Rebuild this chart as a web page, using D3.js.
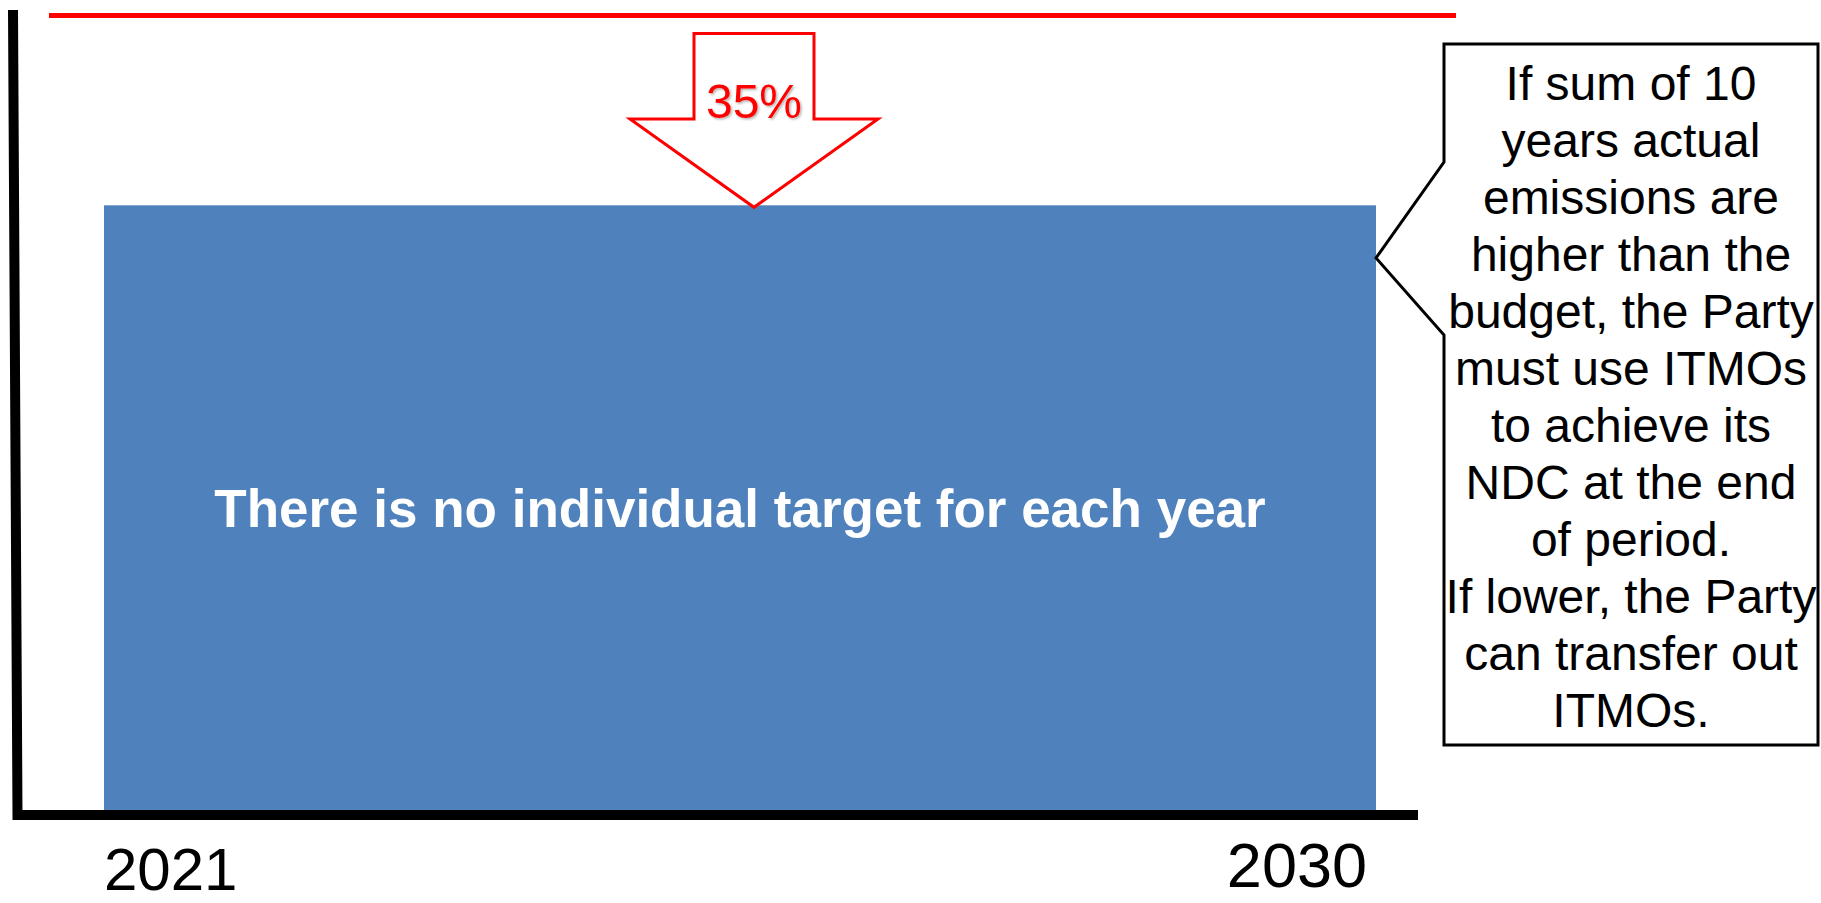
<!DOCTYPE html>
<html>
<head>
<meta charset="utf-8">
<script src="https://cdn.jsdelivr.net/npm/d3@7"></script>
<style>
  html, body { margin: 0; padding: 0; background: #fff; }
  svg { display: block; font-family: "Liberation Sans", Arial, sans-serif; }
</style>
</head>
<body>
<svg width="1821" height="903"></svg>
<script>
// ***Data***
var period = [2021, 2030];          // first and last year of the NDC period
var tickLabels = ["2021", "2030"];
var baseLevel = 100;                // red reference line
var budgetLevel = 76.2;             // height of the budget block
var reductionLabel = "35%";
var barLabel = "There is no individual target for each year";
var calloutLines = [
  "If sum of 10",
  "years actual",
  "emissions are",
  "higher than the",
  "budget, the Party",
  "must use ITMOs",
  "to achieve its",
  "NDC at the end",
  "of period.",
  "If lower, the Party",
  "can transfer out",
  "ITMOs."
];

var svg = d3.select("svg");

// soft shadow like the slide's text effect
var defs = svg.append("defs");
var f = defs.append("filter").attr("id", "shadow")
    .attr("x", "-10%").attr("y", "-10%").attr("width", "130%").attr("height", "130%");
f.append("feDropShadow").attr("dx", 1.5).attr("dy", 1.5)
    .attr("stdDeviation", 1).attr("flood-color", "#000").attr("flood-opacity", 0.3);

// scales: bar covers whole years, from start of 2021 to end of 2030
var x = d3.scaleLinear().domain([period[0], period[1] + 1]).range([104, 1376]);
var y = d3.scaleLinear().domain([0, baseLevel]).range([813, 15.5]);

// budget block
svg.append("rect")
    .attr("x", x(period[0]))
    .attr("y", y(budgetLevel))
    .attr("width", x(period[1] + 1) - x(period[0]))
    .attr("height", y(0) - y(budgetLevel))
    .attr("fill", "#4f81bd");

// axes (hand drawn in the slide: the vertical one leans a little)
svg.append("path")
    .attr("d", "M13,10 L17.5," + (y(0) + 2) + " L1418," + (y(0) + 2))
    .attr("fill", "none")
    .attr("stroke", "#000")
    .attr("stroke-width", 10)
    .attr("stroke-linejoin", "miter");

// base level line
svg.append("line")
    .attr("x1", 49).attr("x2", 1456)
    .attr("y1", y(baseLevel)).attr("y2", y(baseLevel))
    .attr("stroke", "#ff0000")
    .attr("stroke-width", 5);

// down arrow from base line to the budget
var ax = 754, tipY = y(budgetLevel) + 2, topY = y(baseLevel) + 18;
var shaftW = 60, headW = 124, headY = 119;
svg.append("path")
    .attr("d", "M" + (ax - shaftW) + "," + topY +
      " H" + (ax + shaftW) +
      " V" + headY +
      " H" + (ax + headW) +
      " L" + ax + "," + tipY +
      " L" + (ax - headW) + "," + headY +
      " H" + (ax - shaftW) + " Z")
    .attr("fill", "#fff")
    .attr("stroke", "#ff0000")
    .attr("stroke-width", 3);

svg.append("text")
    .attr("x", ax)
    .attr("y", 118)
    .attr("text-anchor", "middle")
    .attr("font-size", 48)
    .attr("fill", "#ff0000")
    .attr("filter", "url(#shadow)")
    .text(reductionLabel);

// text inside the block
svg.append("text")
    .attr("x", (x(period[0]) + x(period[1] + 1)) / 2)
    .attr("y", 527)
    .attr("text-anchor", "middle")
    .attr("font-size", 53)
    .attr("font-weight", "bold")
    .attr("fill", "#fff")
    .text(barLabel);

// year labels under the axis
svg.append("text")
    .attr("x", x(period[0]))
    .attr("y", 890)
    .attr("font-size", 60)
    .attr("fill", "#000")
    .text(tickLabels[0]);

svg.append("text")
    .attr("x", x(period[1] + 1) - 9)
    .attr("y", 887)
    .attr("text-anchor", "end")
    .attr("font-size", 63)
    .attr("fill", "#000")
    .text(tickLabels[1]);

// callout box pointing at the block
var bx0 = 1444, bx1 = 1818, by0 = 44, by1 = 745;
svg.append("path")
    .attr("d", "M" + bx0 + "," + by0 + " H" + bx1 + " V" + by1 + " H" + bx0 +
      " V335 L" + x(period[1] + 1) + ",258 L" + bx0 + ",162 Z")
    .attr("fill", "#fff")
    .attr("stroke", "#000")
    .attr("stroke-width", 3);

svg.append("g").selectAll("text")
    .data(calloutLines)
  .enter().append("text")
    .attr("x", (bx0 + bx1) / 2)
    .attr("y", function(d, i) { return 100 + i * 57; })
    .attr("text-anchor", "middle")
    .attr("font-size", 48)
    .attr("fill", "#000")
    .text(function(d) { return d; });
</script>
</body>
</html>
